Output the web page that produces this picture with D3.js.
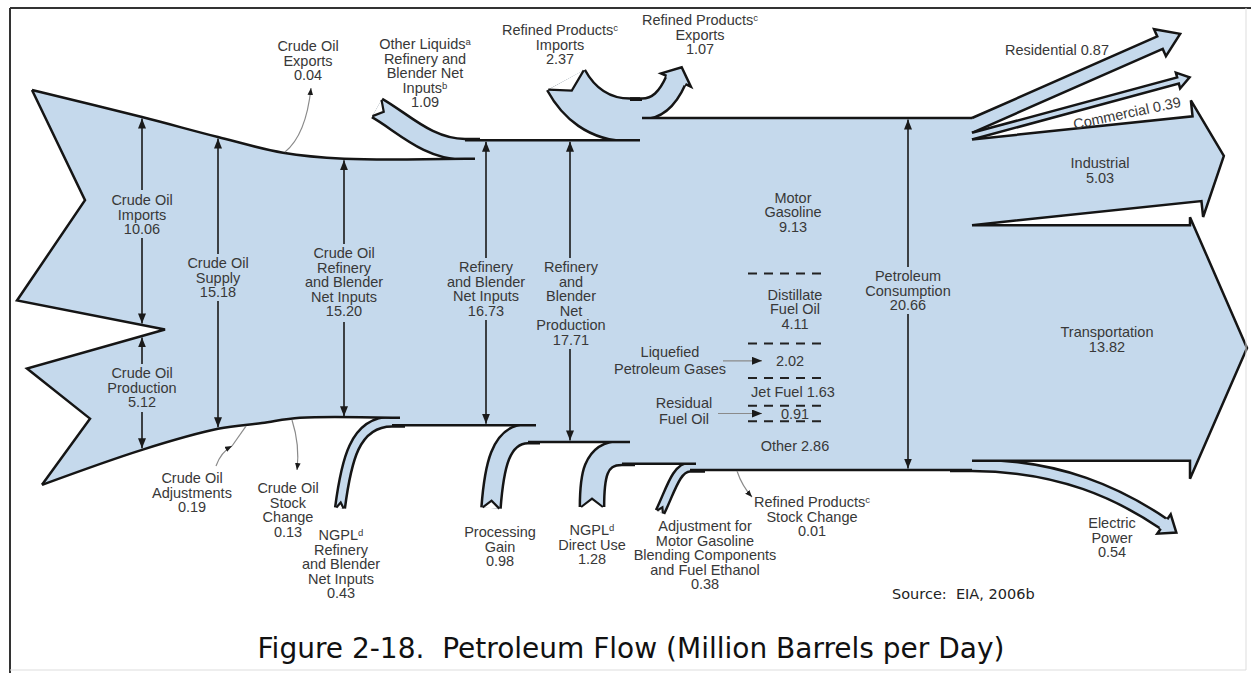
<!DOCTYPE html>
<html>
<head>
<meta charset="utf-8">
<script src="https://cdn.jsdelivr.net/npm/d3@7"></script>
<style>
  body { margin: 0; background: #fff; }
  svg text { font-family: "Liberation Sans", Arial, sans-serif; font-size: 14.5px; fill: #383838; }
</style>
</head>
<body>
<svg width="1251" height="673"></svg>
<script>
// crude oil sources (million barrels per day)
var crudeSources = ["Crude Oil Imports", "Crude Oil Production"];
var crudeSourceValues = [10.06, 5.12];

// small crude changes: exports leave, adjustments join, stock change leaves
var crudeChanges = ["Crude Oil Exports", "Crude Oil Adjustments", "Crude Oil Stock Change"];
var crudeChangeValues = [0.04, 0.19, 0.13];

// stages along the trunk
var stages = ["Crude Oil Supply", "Crude Oil Refinery and Blender Net Inputs", "Refinery and Blender Net Inputs",
  "Refinery and Blender Net Production", "Petroleum Consumption"];
var stageValues = [15.18, 15.20, 16.73, 17.71, 20.66];

// other refinery inputs
var refineryInputs = ["Other Liquids Refinery and Blender Net Inputs", "NGPL Refinery and Blender Net Inputs", "Processing Gain"];
var refineryInputValues = [1.09, 0.43, 0.98];

// refined product flows after the refinery
var productFlows = ["Refined Products Imports", "Refined Products Exports", "NGPL Direct Use",
  "Adjustment for Motor Gasoline Blending Components and Fuel Ethanol", "Refined Products Stock Change"];
var productFlowValues = [2.37, 1.07, 1.28, 0.38, 0.01];

// products in the consumption band
var products = ["Motor Gasoline", "Distillate Fuel Oil", "Liquefied Petroleum Gases", "Jet Fuel", "Residual Fuel Oil", "Other"];
var productValues = [9.13, 4.11, 2.02, 1.63, 0.91, 2.86];

// end-use sectors
var sectors = ["Residential", "Commercial", "Industrial", "Transportation", "Electric Power"];
var sectorValues = [0.87, 0.39, 5.03, 13.82, 0.54];

var svg = d3.select("svg");
var blue = "#c5d9ec", ink = "#151515";
var f = d3.format(".2f");

// pipe thickness in px for a flow
var thick = d3.scaleLinear().domain([0, stageValues[4]]).range([0, 352]);

// markers
var defs = svg.append("defs");
defs.append("marker").attr("id", "ah").attr("viewBox", "0 0 10 8").attr("refX", 10).attr("refY", 4)
  .attr("markerWidth", 10).attr("markerHeight", 8).attr("markerUnits", "userSpaceOnUse").attr("orient", "auto")
  .append("path").attr("d", "M0,0L10,4L0,8Z").attr("fill", "#1a1a1a");
defs.append("marker").attr("id", "ahs").attr("viewBox", "0 0 10 8").attr("refX", 10).attr("refY", 4)
  .attr("markerWidth", 7).attr("markerHeight", 6).attr("markerUnits", "userSpaceOnUse").attr("orient", "auto")
  .append("path").attr("d", "M0,0L10,4L0,8Z").attr("fill", "#1a1a1a");

// edges of the trunk, from the flows
var yTopCons = 118;
var yTopRef = yTopCons + thick(productFlowValues[0] - productFlowValues[1]);
var yTopU = yTopRef - thick(productFlowValues[0]);
var yTopCrude = yTopRef + thick(refineryInputValues[0]);
var yTopCrude0 = yTopCrude - thick(crudeChangeValues[0]);
var yBotRef = yTopRef + thick(stageValues[2]);
var yBotCrude = yBotRef - thick(refineryInputValues[1]);
var yBotCrude1 = yBotCrude + thick(crudeChangeValues[2]);
var yBotCrude0 = yBotCrude1 - thick(crudeChangeValues[1]);
var yBotPG = yBotRef + thick(refineryInputValues[2]);
var yBotNG = yBotPG + thick(productFlowValues[2]);
var yBotAdj = yBotNG + thick(productFlowValues[3]);
var yBotCons = yBotAdj - thick(productFlowValues[4]);
var yImpBot = yTopCrude0 + thick(crudeSourceValues[0]);

// x layout
var xImp = 142, xSupply = 218, xCrudeIn = 344, xRefIn = 486, xNetProd = 570, xCons = 908, xSplit = 972;
var xOL = 465, xNGPL = 392, xPG = 528, xImpJoin = 630, xExpOut = 642, xNGd = 622, xAdj = 690;

var topFlare = [[32, yTopCrude0 - 68], [xImp, yTopCrude0 - 41], [xSupply, yTopCrude0 - 21], [283, yTopCrude - 6], [xCrudeIn, yTopCrude], [xOL, yTopCrude]];
var botFlare = [[42, yBotCrude0 + 68], [xImp, yBotCrude0 + 33], [xSupply, yBotCrude0 + 12], [262, yBotCrude1 + 3], [300, yBotCrude], [xNGPL, yBotCrude]];
var impLow = [17, yImpBot - 29], split = [165, yImpBot], prodTop = [27, yImpBot + 39];
var impNotch = [85, (topFlare[0][1] + impLow[1]) / 2 + 5];
var prodNotch = [90, (prodTop[1] + botFlare[0][1]) / 2 - 8];

var curve = d3.line().curve(d3.curveCatmullRom);
function pts(a) { return a.map(function(p) { return p[0] + "," + p[1]; }).join("L"); }
var topAt = d3.scaleLinear().domain(topFlare.map(function(p) { return p[0]; })).range(topFlare.map(function(p) { return p[1]; }));
var botAt = d3.scaleLinear().domain(botFlare.map(function(p) { return p[0]; })).range(botFlare.map(function(p) { return p[1]; }));

// sector and product partitions of the consumption band
var cum = d3.cumsum(sectorValues);
var sTop = sectorValues.map(function(v, i) { return yTopCons + thick(cum[i] - v); });
var sBot = sectorValues.map(function(v, i) { return yTopCons + thick(cum[i]); });
var pcum = d3.cumsum(productValues);
var pTop = productValues.map(function(v, i) { return yTopCons + thick(pcum[i] - v); });
var pBot = productValues.map(function(v, i) { return yTopCons + thick(pcum[i]); });
function pMid(i) { return (pTop[i] + pBot[i]) / 2; }

// ---- pipes that join or leave the trunk ----
function pipe(p0, p1, p2, p3, p4, pre) {
  var p = d3.path();
  if (pre) { p.moveTo(pre[0], pre[1]); p.lineTo(p0[0], p0[1]); } else p.moveTo(p0[0], p0[1]);
  p.bezierCurveTo(p1[0], p1[1], p2[0], p2[1], p3[0], p3[1]);
  if (p4) p.lineTo(p4[0], p4[1]);
  return p.toString();
}
var yOL = (yTopRef + yTopCrude) / 2, yIm = (yTopU + yTopRef) / 2, yEx = (yTopU + yTopCons) / 2;
var yNL = (yBotCrude + yBotRef) / 2, yPG = (yBotRef + yBotPG) / 2, yNd = (yBotPG + yBotNG) / 2;
var yAd = (yBotNG + yBotAdj) / 2, yEl = (sTop[4] + sBot[4]) / 2;

var pipes = [
  {w: thick(refineryInputValues[0]), d: pipe([377, 108], [402, 122], [428, yOL], [xOL, yOL], [480, yOL]), tail: [[377, 108], [402, 122]]},
  {w: thick(productFlowValues[0]), d: pipe([566, 80], [578, 102], [598, yIm], [xImpJoin, yIm], [640, yIm]), tail: [[566, 80], [578, 102]]},
  {w: thick(productFlowValues[1]), d: pipe([xExpOut, yEx], [658, yEx], [668, 98], [676, 80], null, [xImpJoin, yEx]), head: [[676, 80], [8, -18], 6, 14]},
  {w: thick(refineryInputValues[1]), d: pipe([340, 508], [346, 462], [354, yNL], [xNGPL, yNL], [405, yNL]), tail: [[340, 508], [346, 462]]},
  {w: thick(refineryInputValues[2]), d: pipe([491, 508], [494, 468], [500, yPG], [xPG, yPG], [540, yPG]), tail: [[491, 508], [494, 468]]},
  {w: thick(productFlowValues[2]), d: pipe([592, 507], [592, 478], [594, yNd], [xNGd, yNd], [635, yNd]), tail: [[592, 507], [592, 478]]},
  {w: thick(productFlowValues[3]), d: pipe([660, 512], [670, 492], [676, yAd], [xAdj, yAd], [705, yAd]), tail: [[660, 512], [670, 492]]},
  {w: thick(sectorValues[4]), d: pipe([xSplit, yEl], [1060, yEl], [1120, 494], [1164, 524], null, [950, yEl]), head: [[1164, 524], [42, 29], 6, 15]}
];
var gPipe = svg.append("g");
pipes.forEach(function(p) {
  gPipe.append("path").attr("d", p.d).attr("fill", "none").attr("stroke", ink).attr("stroke-width", p.w + 5);
});
pipes.forEach(function(p) {
  gPipe.append("path").attr("d", p.d).attr("fill", "none").attr("stroke", blue).attr("stroke-width", p.w);
});

// ---- trunk ----
var trunkD = curve(topFlare) + "L" + pts([[xOL, yTopRef], [xImpJoin, yTopRef], [xImpJoin, yTopU], [xExpOut, yTopU],
  [xExpOut, yTopCons], [xSplit, yTopCons], [xSplit, yBotCons], [xAdj, yBotCons], [xAdj, yBotNG], [xNGd, yBotNG],
  [xNGd, yBotPG], [xPG, yBotPG], [xPG, yBotRef], [xNGPL, yBotRef]]) +
  curve(botFlare.slice().reverse()).replace("M", "L") + "L" + pts([prodNotch, prodTop, split, impLow, impNotch]) + "Z";
svg.append("path").attr("d", trunkD).attr("fill", blue);

// ---- end-use arrows ----
function strip(yA, yB, slope, xEnd, barb, head) {
  var n = Math.hypot(1, slope), u = [1 / n, slope / n], up = [u[1], -u[0]];
  var c = [xSplit, (yA + yB) / 2], len = (xEnd - xSplit) / u[0];
  var m = [c[0] + u[0] * len, c[1] + u[1] * len], hw = (yB - yA) / 2 * u[0];
  function at(k, s) { return [m[0] + up[0] * k + u[0] * s, m[1] + up[1] * k + u[1] * s]; }
  return [[xSplit, yA], at(hw, 0), at(hw + barb, 0), at(0, head), at(-hw - barb, 0), at(-hw, 0), [xSplit, yB]];
}
var ends = [
  strip(sTop[0], sBot[0], -0.44, 1160, 8, 22),
  strip(sTop[1], sBot[1], -0.27, 1178, 5, 12),
  strip(sTop[2], sBot[2], -0.105, 1197, 16, 27),
  [[xSplit, sTop[3]], [1190, sTop[3]], [1190, sTop[3] - 8], [1247, (sTop[3] + sBot[3] + 10) / 2], [1190, sBot[3] + 18], [1190, sBot[3]], [xSplit, sBot[3]]]
];
ends.forEach(function(a) {
  svg.append("path").attr("d", "M" + pts(a) + "Z").attr("fill", blue);
  svg.append("path").attr("d", "M" + pts(a)).attr("fill", "none").attr("stroke", ink).attr("stroke-width", 2.5);
});

// arrowheads on curved pipes
pipes.filter(function(p) { return p.head; }).forEach(function(p) {
  var E = p.head[0], d = p.head[1], l = Math.hypot(d[0], d[1]), u = [d[0] / l, d[1] / l], nr = [u[1], -u[0]];
  function at(k, s) { return [E[0] + nr[0] * k + u[0] * s, E[1] + nr[1] * k + u[1] * s]; }
  var hw = p.w / 2 + 1.2, b = p.head[2], h = p.head[3];
  svg.append("path").attr("d", "M" + pts([at(hw, -1.5), at(hw, 0), at(hw + b, 0), at(0, h), at(-hw - b, 0), at(-hw, 0), at(-hw, -1.5)]) + "Z")
    .attr("fill", blue);
  svg.append("path").attr("d", "M" + pts([at(hw, 0), at(hw + b, 0), at(0, h), at(-hw - b, 0), at(-hw, 0)]))
    .attr("fill", "none").attr("stroke", ink).attr("stroke-width", 2.5);
});

// ---- trunk outline ----
var edges = [
  curve(topFlare) + "L" + (xOL + 10) + "," + yTopCrude,
  "M" + pts([[xOL, yTopRef], [xImpJoin + 10, yTopRef]]),
  "M" + pts([[xImpJoin, yTopU], [xExpOut, yTopU]]),
  "M" + pts([[xExpOut, yTopCons], [xSplit, yTopCons]]),
  curve(botFlare) + "L" + (xNGPL + 8) + "," + yBotCrude,
  "M" + pts([[xNGPL, yBotRef], [xPG + 8, yBotRef]]),
  "M" + pts([[xPG, yBotPG], [xNGd + 8, yBotPG]]),
  "M" + pts([[xNGd, yBotNG], [xAdj + 6, yBotNG]]),
  "M" + pts([[xAdj, yBotCons], [xSplit, yBotCons]]),
  "M" + pts([topFlare[0], impNotch, impLow, split, prodTop, prodNotch, botFlare[0]])
];
svg.selectAll("path.edge").data(edges).enter().append("path").attr("class", "edge")
  .attr("d", function(d) { return d; }).attr("fill", "none").attr("stroke", ink).attr("stroke-width", 2.5);

// swallow tails on incoming pipes
pipes.filter(function(p) { return p.tail; }).forEach(function(p) {
  var P0 = p.tail[0], P1 = p.tail[1], l = Math.hypot(P1[0] - P0[0], P1[1] - P0[1]);
  var u = [(P1[0] - P0[0]) / l, (P1[1] - P0[1]) / l], nr = [u[1], -u[0]], dep = 4 + p.w * 0.2;
  var a = [P0[0] + nr[0] * p.w / 2, P0[1] + nr[1] * p.w / 2], b = [P0[0] - nr[0] * p.w / 2, P0[1] - nr[1] * p.w / 2];
  var v = [P0[0] + u[0] * dep, P0[1] + u[1] * dep];
  svg.append("path").attr("d", "M" + pts([a, v, b]) + "Z").attr("fill", "#fff");
  svg.append("path").attr("d", "M" + pts([a, v, b])).attr("fill", "none").attr("stroke", ink).attr("stroke-width", 2.2);
});

// ---- stage arrows ----
function stageArrow(x, yTop, yA, yB, yBot) {
  svg.append("line").attr("x1", x).attr("x2", x).attr("y1", yA).attr("y2", yTop + 1.5)
    .attr("stroke", "#1a1a1a").attr("stroke-width", 1.6).attr("marker-end", "url(#ah)");
  svg.append("line").attr("x1", x).attr("x2", x).attr("y1", yB).attr("y2", yBot - 1.5)
    .attr("stroke", "#1a1a1a").attr("stroke-width", 1.6).attr("marker-end", "url(#ah)");
}
var impLowAt = d3.scaleLinear().domain([impLow[0], split[0]]).range([impLow[1], split[1]]);
var prodTopAt = d3.scaleLinear().domain([prodTop[0], split[0]]).range([prodTop[1], split[1]]);
stageArrow(xImp, topAt(xImp), 190, 238, impLowAt(xImp));
stageArrow(xImp, prodTopAt(xImp), 364, 412, botAt(xImp));
stageArrow(xSupply, topAt(xSupply), 254, 301, botAt(xSupply));
stageArrow(xCrudeIn, topAt(xCrudeIn), 244, 322, botAt(xCrudeIn));
stageArrow(xRefIn, yTopRef, 258, 320, yBotRef);
stageArrow(xNetProd, yTopRef, 258, 349, yBotPG);
stageArrow(xCons, yTopCons, 267, 314, yBotCons);

// ---- small annotation arrows ----
function note(d, marker) {
  svg.append("path").attr("d", d).attr("fill", "none").attr("stroke", "#8a8a8a").attr("stroke-width", 1.2)
    .attr("marker-end", marker ? "url(#ahs)" : null);
}
note("M285," + (topAt(285) - 1) + "Q306,135 311,88", true);
note("M216,466Q221,452 232,446", true);
note("M232,446L246," + (botAt(246) + 1), false);
note("M292," + (botAt(292) + 1) + "Q300,445 297,470", true);
note("M737," + (yBotCons + 1) + "Q742,486 752,497", true);
svg.append("line").attr("x1", 723).attr("x2", 762).attr("y1", pMid(2)).attr("y2", pMid(2))
  .attr("stroke", "#8a8a8a").attr("stroke-width", 1.2).attr("marker-end", "url(#ah)");
svg.append("line").attr("x1", 718).attr("x2", 762).attr("y1", pMid(4)).attr("y2", pMid(4))
  .attr("stroke", "#8a8a8a").attr("stroke-width", 1.2).attr("marker-end", "url(#ah)");

// dashed product boundaries
svg.selectAll("line.dash").data(pBot.slice(0, 5)).enter().append("line").attr("class", "dash")
  .attr("x1", 748).attr("x2", 828).attr("y1", function(d) { return d; }).attr("y2", function(d) { return d; })
  .attr("stroke", "#222").attr("stroke-width", 2).attr("stroke-dasharray", "9,7");

// ---- labels ----
function label(x, y0, lines, step) {
  var t = svg.append("text").attr("text-anchor", "middle");
  lines.forEach(function(s, i) {
    var parts = s.split("^");
    t.append("tspan").attr("x", x).attr("y", y0 + i * (step || 14.5) + 5).text(parts[0]);
    if (parts[1]) t.append("tspan").attr("dy", -4).attr("font-size", "9.5px").text(parts[1]);
  });
  return t;
}
label(308, 46, ["Crude Oil", "Exports", f(crudeChangeValues[0])]);
label(425, 44, ["Other Liquids^a", "Refinery and", "Blender Net", "Inputs^b", f(refineryInputValues[0])]);
label(560, 30, ["Refined Products^c", "Imports", f(productFlowValues[0])]);
label(700, 20, ["Refined Products^c", "Exports", f(productFlowValues[1])]);
label(xImp, 200, ["Crude Oil", "Imports", f(crudeSourceValues[0])]);
label(xImp, 373, ["Crude Oil", "Production", f(crudeSourceValues[1])]);
label(xSupply, 263, ["Crude Oil", "Supply", f(stageValues[0])]);
label(xCrudeIn, 253, ["Crude Oil", "Refinery", "and Blender", "Net Inputs", f(stageValues[1])]);
label(xRefIn, 267, ["Refinery", "and Blender", "Net Inputs", f(stageValues[2])]);
label(xNetProd + 1, 267, ["Refinery", "and", "Blender", "Net", "Production", f(stageValues[3])]);
label(xCons, 276, ["Petroleum", "Consumption", f(stageValues[4])]);
label(192, 478, ["Crude Oil", "Adjustments", f(crudeChangeValues[1])]);
label(288, 488, ["Crude Oil", "Stock", "Change", f(crudeChangeValues[2])]);
label(341, 535, ["NGPL^d", "Refinery", "and Blender", "Net Inputs", f(refineryInputValues[1])]);
label(500, 532, ["Processing", "Gain", f(refineryInputValues[2])]);
label(592, 530, ["NGPL^d", "Direct Use", f(productFlowValues[2])]);
label(705, 526, ["Adjustment for", "Motor Gasoline", "Blending Components", "and Fuel Ethanol", f(productFlowValues[3])]);
label(812, 502, ["Refined Products^c", "Stock Change", f(productFlowValues[4])]);

// products
label(793, pMid(0) + 2, ["Motor", "Gasoline", f(productValues[0])]);
label(795, pMid(1) - 14, ["Distillate", "Fuel Oil", f(productValues[1])]);
label(670, pMid(2) - 9, ["Liquefied", "Petroleum Gases"], 17);
label(790, pMid(2), [f(productValues[2])]);
label(793, pMid(3), ["Jet Fuel " + f(productValues[3])]);
label(684, pMid(4) - 11, ["Residual", "Fuel Oil"], 16);
label(795, pMid(4), [f(productValues[4])]);
label(795, pMid(5), ["Other " + f(productValues[5])]);

// sectors
label(1057, 50, [sectors[0] + " " + f(sectorValues[0])]);
svg.append("text").attr("text-anchor", "middle").attr("transform", "translate(1128,118) rotate(-12)")
  .text(sectors[1] + " " + f(sectorValues[1]));
label(1100, 163, [sectors[2], f(sectorValues[2])]);
label(1107, 332, [sectors[3], f(sectorValues[3])]);
label(1112, 523, ["Electric", "Power", f(sectorValues[4])]);

// source and title
svg.append("text").attr("x", 892).attr("y", 599).attr("xml:space", "preserve")
  .style("font-family", "'DejaVu Sans', Verdana, sans-serif").style("font-size", "14.5px").style("fill", "#222")
  .style("white-space", "pre").text("Source:  EIA, 2006b");
svg.append("text").attr("x", 631).attr("y", 658).attr("text-anchor", "middle").attr("xml:space", "preserve")
  .style("font-family", "'DejaVu Sans', Verdana, sans-serif").style("font-size", "28px").style("fill", "#111")
  .style("white-space", "pre").text("Figure 2-18.  Petroleum Flow (Million Barrels per Day)");

// frame
svg.append("line").attr("x1", 10).attr("x2", 1251).attr("y1", 8).attr("y2", 8).attr("stroke", "#333").attr("stroke-width", 2);
svg.append("line").attr("x1", 10).attr("x2", 10).attr("y1", 8).attr("y2", 673).attr("stroke", "#333").attr("stroke-width", 2);
svg.append("line").attr("x1", 10).attr("x2", 1246).attr("y1", 670).attr("y2", 670).attr("stroke", "#ddd").attr("stroke-width", 1);
svg.append("line").attr("x1", 1246).attr("x2", 1246).attr("y1", 8).attr("y2", 670).attr("stroke", "#ddd").attr("stroke-width", 1);
</script>
</body>
</html>
